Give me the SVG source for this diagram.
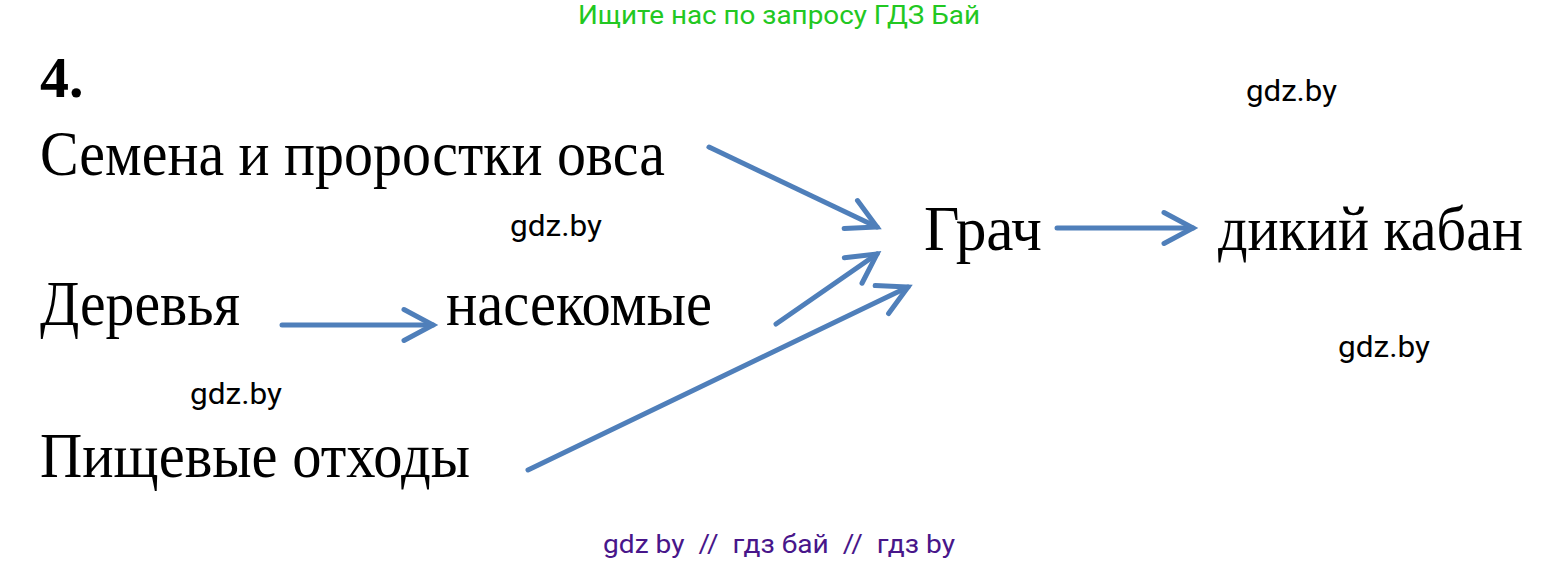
<svg xmlns="http://www.w3.org/2000/svg" width="1560" height="562" viewBox="0 0 1560 562">
<defs>
<marker id="head" markerUnits="userSpaceOnUse" orient="auto" markerWidth="40" markerHeight="40" refX="0" refY="0" viewBox="-34 -20 40 40" overflow="visible">
<path d="M-29,-15.5 L0,0 L-29,15.5" fill="none" stroke="#4f7fba" stroke-width="5" stroke-linecap="round" stroke-linejoin="miter"/>
</marker>
<style>
.t{font-family:"Liberation Serif","Times New Roman",serif;fill:#000;font-size:63px}
.w{font-family:Roboto,"Liberation Sans",sans-serif;fill:#000;font-size:29px}
</style>
</defs>
<rect width="1560" height="562" fill="#fff"/>
<text x="578" y="24" font-family="Roboto,'Liberation Sans',sans-serif" font-size="25" fill="#22c822" textLength="402" lengthAdjust="spacingAndGlyphs">Ищите нас по запросу ГДЗ Бай</text>
<text x="40" y="97" font-family="'Liberation Serif','Times New Roman',serif" font-weight="bold" font-size="58" fill="#000">4.</text>
<g id="oats"><text class="t" x="40" y="175" textLength="625" lengthAdjust="spacingAndGlyphs">Семена и проростки овса</text></g>
<g id="trees"><text class="t" x="40" y="325" textLength="200" lengthAdjust="spacingAndGlyphs">Деревья</text></g>
<g id="insects"><text class="t" x="446" y="325" textLength="266" lengthAdjust="spacingAndGlyphs">насекомые</text></g>
<g id="waste"><text class="t" x="40" y="477" textLength="430" lengthAdjust="spacingAndGlyphs">Пищевые отходы</text></g>
<g id="rook"><text class="t" x="924" y="250" textLength="118" lengthAdjust="spacingAndGlyphs">Грач</text></g>
<g id="boar"><text class="t" x="1218" y="250" textLength="305" lengthAdjust="spacingAndGlyphs">дикий кабан</text></g>
<g id="connectors" fill="none" stroke="#4f7fba" stroke-width="5" stroke-linecap="round">
<line x1="709" y1="147" x2="877" y2="227" marker-end="url(#head)"/>
<line x1="776" y1="324" x2="877" y2="254" marker-end="url(#head)"/>
<line x1="528" y1="470" x2="908" y2="287" marker-end="url(#head)"/>
<line x1="282" y1="325" x2="433" y2="325" marker-end="url(#head)"/>
<line x1="1057" y1="228" x2="1193" y2="228" marker-end="url(#head)"/>
</g>
<g id="watermarks">
<text class="w" x="1246" y="101" textLength="91" lengthAdjust="spacingAndGlyphs">gdz.by</text>
<text class="w" x="510" y="236" textLength="92" lengthAdjust="spacingAndGlyphs">gdz.by</text>
<text class="w" x="1338" y="357" textLength="92" lengthAdjust="spacingAndGlyphs">gdz.by</text>
<text class="w" x="190" y="404" textLength="92" lengthAdjust="spacingAndGlyphs">gdz.by</text>
</g>
<text x="603" y="553" font-family="Roboto,'Liberation Sans',sans-serif" font-size="25" fill="#48168a" textLength="352" lengthAdjust="spacingAndGlyphs" xml:space="preserve">gdz by  //  гдз бай  //  гдз by</text>
</svg>
